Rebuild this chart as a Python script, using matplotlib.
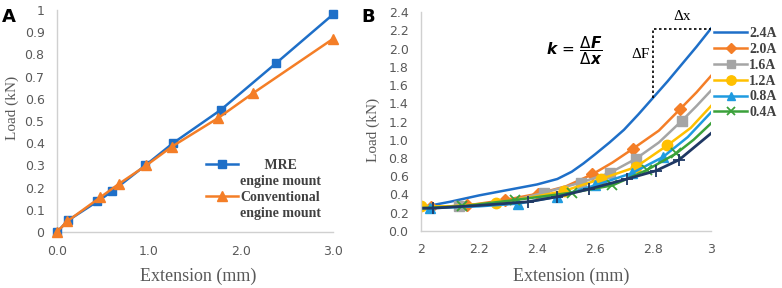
import matplotlib.pyplot as plt
from matplotlib.lines import Line2D

# ---- panel A data ----
mre_x = [0.0, 0.12, 0.44, 0.60, 0.96, 1.26, 1.78, 2.38, 3.0]
mre_y = [0.0, 0.052, 0.138, 0.183, 0.30, 0.40, 0.55, 0.76, 0.98]
conv_x = [0.0, 0.11, 0.47, 0.67, 0.97, 1.25, 1.75, 2.13, 3.0]
conv_y = [0.0, 0.048, 0.156, 0.216, 0.30, 0.385, 0.513, 0.625, 0.87]

# ---- panel B data (curve points; markers where the chart shows them) ----
b24_x = [2.0, 2.1, 2.2, 2.3, 2.4, 2.47, 2.52, 2.56, 2.6, 2.65, 2.7, 2.75, 2.8, 2.85, 2.9, 2.95, 3.0]
b24_y = [0.26, 0.32, 0.39, 0.45, 0.51, 0.57, 0.65, 0.74, 0.84, 0.97, 1.11, 1.28, 1.46, 1.64, 1.83, 2.02, 2.22]

b20_x = [2.0, 2.036, 2.158, 2.29, 2.405, 2.5, 2.59, 2.66, 2.73, 2.82, 2.893, 2.95, 3.0]
b20_y = [0.26, 0.26, 0.28, 0.34, 0.41, 0.49, 0.62, 0.75, 0.90, 1.10, 1.335, 1.52, 1.70]
b20_m = [1, 2, 3, 4, 6, 8, 10]

b16_x = [2.0, 2.13, 2.3, 2.425, 2.55, 2.65, 2.74, 2.82, 2.90, 2.95, 3.0]
b16_y = [0.26, 0.27, 0.32, 0.42, 0.53, 0.635, 0.79, 0.97, 1.21, 1.37, 1.54]
b16_m = [1, 3, 4, 5, 6, 8]

b12_x = [2.0, 2.1, 2.26, 2.40, 2.494, 2.62, 2.74, 2.85, 2.93, 3.0]
b12_y = [0.27, 0.27, 0.31, 0.38, 0.44, 0.57, 0.70, 0.94, 1.13, 1.37]
b12_m = [0, 2, 4, 5, 6, 7]

b08_x = [2.0, 2.03, 2.2, 2.336, 2.468, 2.60, 2.728, 2.834, 2.92, 3.0]
b08_y = [0.25, 0.25, 0.27, 0.30, 0.375, 0.50, 0.635, 0.81, 1.03, 1.30]
b08_m = [1, 3, 4, 5, 6, 7]

b04_x = [2.0, 2.14, 2.325, 2.52, 2.66, 2.78, 2.88, 2.94, 3.0]
b04_y = [0.25, 0.27, 0.34, 0.42, 0.50, 0.67, 0.85, 1.0, 1.18]
b04_m = [1, 2, 3, 4, 5, 6]

bnv_x = [2.0, 2.04, 2.2, 2.37, 2.47, 2.58, 2.71, 2.81, 2.89, 3.0]
bnv_y = [0.25, 0.25, 0.28, 0.32, 0.375, 0.46, 0.57, 0.66, 0.78, 1.07]
bnv_m = [1, 3, 4, 5, 6, 7, 8]

gray = '#595959'
serif = 'Liberation Serif'

fig = plt.figure(figsize=(7.82, 2.88), dpi=100)
axA = fig.add_axes([0.0729, 0.1944, 0.3529, 0.7708])
axB = fig.add_axes([0.5384, 0.198, 0.3708, 0.760])

for ax in (axA, axB):
    for s in ('top', 'right'):
        ax.spines[s].set_visible(False)
    for s in ('left', 'bottom'):
        ax.spines[s].set_color('#d0d0d0')
        ax.spines[s].set_linewidth(1.0)
    ax.tick_params(length=0, labelsize=9, labelcolor=gray, pad=9)

# ---- panel A ----
axA.plot(mre_x, mre_y, '-s', color='#1E6FC8', lw=1.8, ms=6, clip_on=False, zorder=3)
axA.plot(conv_x, conv_y, '-^', color='#F47E27', lw=1.8, ms=7, clip_on=False, zorder=3)
axA.set_xlim(0, 3)
axA.set_ylim(0, 1)
axA.set_xticks([0, 1, 2, 3])
axA.set_xticklabels(['0.0', '1.0', '2.0', '3.0'])
axA.set_yticks([i / 10 for i in range(11)])
axA.set_yticklabels(['0'] + ['0.%d' % i for i in range(1, 10)] + ['1'])
axA.set_xlabel('Extension (mm)', family=serif, fontsize=13, color=gray)
axA.set_ylabel('Load (kN)', family=serif, fontsize=11, color=gray)
axA.xaxis.set_label_coords(0.51, -0.198)
axA.xaxis.label.set_va('center')
axA.yaxis.set_label_coords(-0.163, 0.56)
axA.yaxis.label.set_va('center')

hA = [Line2D([], [], color='#1E6FC8', marker='s', lw=1.8, ms=6),
      Line2D([], [], ls='none'),
      Line2D([], [], color='#F47E27', marker='^', lw=1.8, ms=7),
      Line2D([], [], ls='none')]
legA = axA.legend(hA, ['       MRE', 'engine mount', 'Conventional', 'engine mount'],
                  loc='upper left', bbox_to_anchor=(0.54, 0.33), frameon=False,
                  prop={'family': serif, 'weight': 'bold', 'size': 10},
                  handlelength=2.3, handletextpad=0.15, labelspacing=0.22,
                  borderpad=0, borderaxespad=0)
for t in legA.get_texts():
    t.set_color('#404040')

# ---- panel B ----
axB.plot(b24_x, b24_y, '-', color='#1E6FC8', lw=1.8, label='2.4A')
axB.plot(b20_x, b20_y, '-D', color='#F47E27', lw=1.8, ms=6, markevery=b20_m, label='2.0A')
axB.plot(b16_x, b16_y, '-s', color='#A5A5A5', lw=1.8, ms=7, markevery=b16_m, label='1.6A')
axB.plot(b12_x, b12_y, '-o', color='#FFC000', lw=1.8, ms=7.5, markevery=b12_m, label='1.2A')
axB.plot(b08_x, b08_y, '-^', color='#1F9BE0', lw=1.8, ms=7, markevery=b08_m, label='0.8A')
axB.plot(b04_x, b04_y, '-x', color='#3BA13A', lw=1.8, ms=7, mew=1.3, markevery=b04_m, label='0.4A')
axB.plot(bnv_x, bnv_y, '-+', color='#1F3864', lw=2.0, ms=8, mew=1.3, markevery=bnv_m)
axB.set_xlim(2, 3)
axB.set_ylim(0, 2.4)
axB.set_xticks([2, 2.2, 2.4, 2.6, 2.8, 3])
axB.set_xticklabels(['2', '2.2', '2.4', '2.6', '2.8', '3'])
axB.set_yticks([i * 0.2 for i in range(13)])
axB.set_yticklabels(['%.1f' % (i * 0.2) for i in range(13)])
axB.set_xlabel('Extension (mm)', family=serif, fontsize=13, color=gray)
axB.set_ylabel('Load (kN)', family=serif, fontsize=11, color=gray)
axB.xaxis.set_label_coords(0.517, -0.205)
axB.xaxis.label.set_va('center')
axB.yaxis.set_label_coords(-0.166, 0.46)
axB.yaxis.label.set_va('center')

# slope triangle on the 2.4A curve
i0 = b24_x.index(2.8)
axB.plot([b24_x[i0], b24_x[i0], b24_x[-1]], [b24_y[i0], b24_y[-1], b24_y[-1]],
         ls=(0, (1.5, 1.5)), color='k', lw=1.2)
axB.text((b24_x[i0] + b24_x[-1]) / 2, b24_y[-1] + 0.06, '\u0394x', family=serif,
         fontsize=11, ha='center', va='bottom')
axB.text(b24_x[i0] - 0.01, 1.94, '\u0394F', family=serif, fontsize=11, ha='right', va='center')
axB.text(2.53, 1.98, r'$\boldsymbol{k}\,=\,\dfrac{\Delta \boldsymbol{F}}{\Delta \boldsymbol{x}}$',
         fontsize=11, ha='center', va='center')

legB = fig.legend(loc='upper left', bbox_to_anchor=(0.913, 0.905), frameon=False,
                  prop={'family': serif, 'weight': 'bold', 'size': 10},
                  handlelength=2.4, handletextpad=0.15, labelspacing=0.2,
                  borderpad=0, borderaxespad=0, markerscale=0.9)
for t in legB.get_texts():
    t.set_color('#404040')

fig.text(0.003, 0.972, 'A', fontsize=13, fontweight='bold', va='top')
fig.text(0.462, 0.972, 'B', fontsize=13, fontweight='bold', va='top')

fig.savefig('out.png', dpi=100)
